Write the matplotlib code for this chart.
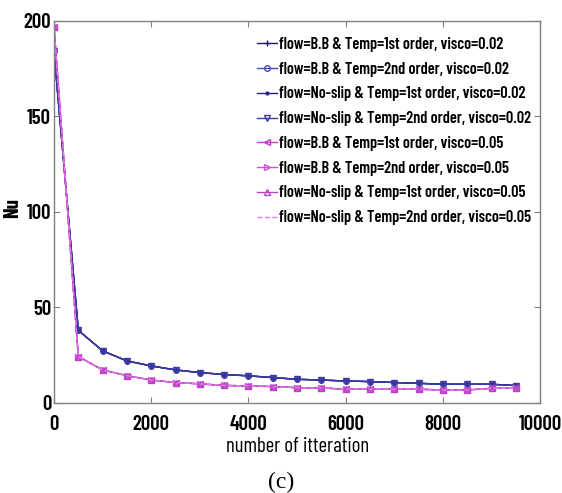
import matplotlib
matplotlib.use("Agg")
import matplotlib.pyplot as plt
from matplotlib import font_manager

iterations = [0, 500, 1000, 1500, 2000, 2500, 3000, 3500, 4000, 4500,
              5000, 5500, 6000, 6500, 7000, 7500, 8000, 8500, 9000, 9500]
nu_visco002 = [184, 38, 27.3, 22, 19.4, 17.3, 15.9, 14.9, 14.2, 13.3,
               12.4, 12.0, 11.5, 11.2, 10.7, 10.3, 9.8, 9.8, 9.8, 9.1]
nu_visco005 = [197, 24.3, 17.3, 14.3, 12.0, 10.7, 10.0, 9.2, 8.9, 8.6,
               8.0, 7.9, 7.2, 7.2, 7.2, 7.2, 6.8, 6.8, 7.7, 7.7]

labels = [
    "flow=B.B & Temp=1st order, visco=0.02",
    "flow=B.B & Temp=2nd order, visco=0.02",
    "flow=No-slip & Temp=1st order, visco=0.02",
    "flow=No-slip & Temp=2nd order, visco=0.02",
    "flow=B.B & Temp=1st order, visco=0.05",
    "flow=B.B & Temp=2nd order, visco=0.05",
    "flow=No-slip & Temp=1st order, visco=0.05",
    "flow=No-slip & Temp=2nd order, visco=0.05",
]
series = [nu_visco002] * 4 + [nu_visco005] * 4
x_ticks = [0, 2000, 4000, 6000, 8000, 10000]
y_ticks = [0, 50, 100, 150, 200]

styles = [
    dict(color="#1c1c6e", marker="+", ls="-"),
    dict(color="#4a4ab0", marker="o", ls="-", mfc="none"),
    dict(color="#24248a", marker=".", ls="-"),
    dict(color="#3a3aa0", marker="v", ls="-", mfc="none"),
    dict(color="#c23ec8", marker="<", ls="-", mfc="none"),
    dict(color="#d050d6", marker=">", ls="-", mfc="none"),
    dict(color="#b844c4", marker="^", ls="-", mfc="none"),
    dict(color="#e080e4", marker="", ls="--"),
]

names = {f.name for f in font_manager.fontManager.ttflist}
def pick(cands):
    for c in cands:
        if c in names:
            return c
    return "DejaVu Sans"
bold_font = pick(["Barlow Condensed", "Liberation Sans Narrow", "Roboto Condensed", "Asap Condensed"])
reg_font = pick(["Barlow Condensed", "Liberation Sans Narrow", "Roboto Condensed", "Archivo Narrow"])

fig = plt.figure(figsize=(5.62, 4.93), dpi=100)
ax = fig.add_axes([0.0961, 0.1826, 0.865, 0.775])

for y, lab, st in zip(series, labels, styles):
    ax.plot(iterations, y, label=lab, lw=1.0, ms=4, mew=1.0, **st)

ax.set_xlim(0, 10000)
ax.set_ylim(0, 200)
ax.set_xticks(x_ticks)
ax.set_yticks(y_ticks)
ax.tick_params(direction="in", top=True, right=True, length=4, color="#808080")
ax.tick_params(axis="x", pad=9)
ax.tick_params(axis="y", pad=2)
for lab in ax.get_xticklabels() + ax.get_yticklabels():
    lab.set_fontfamily(bold_font)
    lab.set_fontweight(600)
    lab.set_fontsize(15)
for sp in ax.spines.values():
    sp.set_color("#808080")
    sp.set_linewidth(1.0)

ax.set_xlabel("number of itteration", fontfamily=reg_font, fontsize=15)
ax.xaxis.set_label_coords(0.5, -0.088)
ax.set_ylabel("Nu", fontfamily=bold_font, fontsize=15, fontweight=700)
ax.yaxis.set_label_coords(-0.066, 0.51)

leg = ax.legend(loc="upper right", frameon=False,
                prop=dict(family=bold_font, weight=600, size=11.7),
                handlelength=1.25, handletextpad=0.1, labelspacing=0.6,
                borderaxespad=0.0, bbox_to_anchor=(0.995, 0.975))

fig.text(0.5, 0.021, "(c)", ha="center", va="center", fontfamily="Liberation Serif",
         fontsize=17)

fig.savefig("out.png", dpi=100)
